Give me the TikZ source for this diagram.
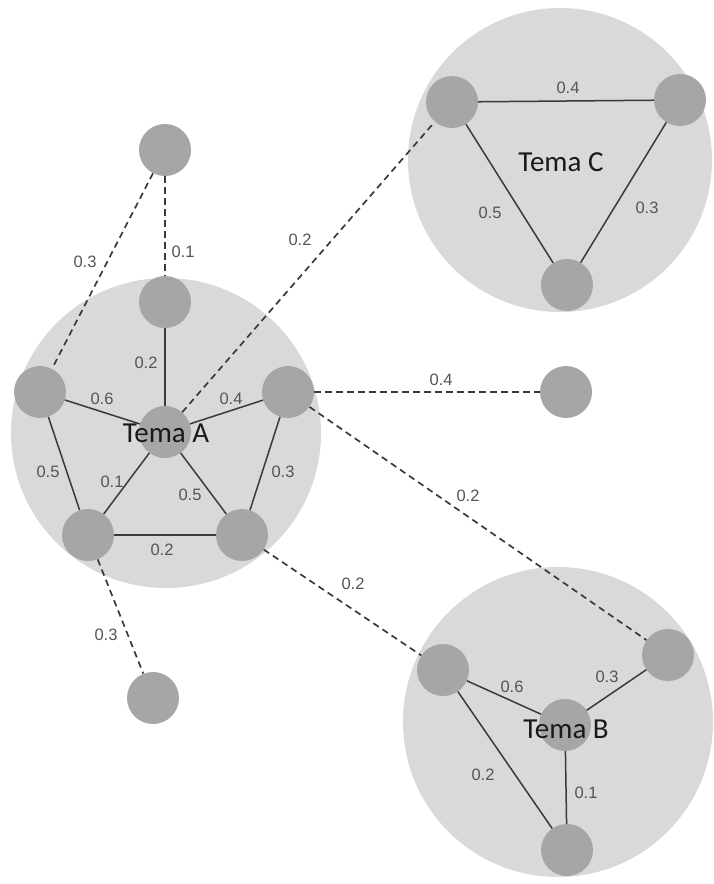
\documentclass[tikz,border=0pt]{standalone}
\usepackage{fontspec}
\setmainfont{Liberation Sans}
\newfontfamily\temafont{Carlito}
\definecolor{bigfill}{HTML}{D9D9D9}
\definecolor{dotfill}{HTML}{A6A6A6}
\definecolor{linec}{HTML}{3A3A3A}
\definecolor{numc}{HTML}{555555}
\begin{document}
\begin{tikzpicture}[x=1pt,y=-1pt,
  bigc/.style={circle, fill=bigfill, inner sep=0pt},
  dot/.style={circle, fill=dotfill, minimum size=52pt, inner sep=0pt},
  ln/.style={draw=linec, line width=1.5pt},
  dl/.style={draw=linec, line width=1.7pt, dash pattern=on 6.5pt off 4.5pt},
  wt/.style={font=\fontsize{16.5}{16.5}\selectfont, text=numc, inner sep=1pt},
  tema/.style={font=\temafont\fontsize{29}{29}\selectfont, text=black!90, inner sep=0pt}]
\useasboundingbox (0,0) rectangle (713,884);
% big circles
\node[bigc, minimum size=310pt] (A) at (166,433) {};
\node[bigc, minimum size=304pt] (C) at (560,160) {};
\node[bigc, minimum size=310pt] (B) at (558,722) {};
% nodes of A
\node[dot] (a0) at (165,432) {};
\node[dot] (a1) at (165,302) {};
\node[dot] (a2) at (40,392) {};
\node[dot] (a3) at (288,392) {};
\node[dot] (a4) at (88,535) {};
\node[dot] (a5) at (242,535) {};
% outer nodes
\node[dot] (o1) at (165,150) {};
\node[dot] (o2) at (566,392) {};
\node[dot] (o3) at (153,698) {};
% nodes of C
\node[dot] (c1) at (452,102) {};
\node[dot] (c2) at (680,100) {};
\node[dot] (c3) at (567,285) {};
% nodes of B
\node[dot] (b0) at (565,725) {};
\node[dot] (b1) at (443,670) {};
\node[dot] (b2) at (668,655) {};
\node[dot] (b3) at (567,850) {};
% solid edges
\draw[ln] (a0) -- (a1);
\draw[ln] (a0) -- (a2);
\draw[ln] (a0) -- (a3);
\draw[ln] (a0) -- (a4);
\draw[ln] (a0) -- (a5);
\draw[ln] (a2) -- (a4);
\draw[ln] (a3) -- (a5);
\draw[ln] (a4) -- (a5);
\draw[ln] (c1) -- (c2);
\draw[ln] (c1) -- (c3);
\draw[ln] (c2) -- (c3);
\draw[ln] (b1) -- (b0);
\draw[ln] (b2) -- (b0);
\draw[ln] (b0) -- (b3);
\draw[ln] (b1) -- (b3);
% dashed edges
\draw[dl] (o1) -- (a1);
\draw[dl] (o1) -- (a2);
\draw[dl] (a0) -- (c1);
\draw[dl] (a3) -- (o2);
\draw[dl] (a3) -- (b2);
\draw[dl] (a5) -- (b1);
\draw[dl] (a4) -- (o3);
% topic names
\node[tema] (tA) at (166,433) {Tema A};
\node[tema] (tC) at (561,162) {Tema C};
\node[tema] (tB) at (566,729) {Tema B};
% weights
\node[wt] (w1) at (183,252) {0.1};
\node[wt] (w2) at (85,262) {0.3};
\node[wt] (w3) at (300,240) {0.2};
\node[wt] (w4) at (146,363) {0.2};
\node[wt] (w5) at (102,399) {0.6};
\node[wt] (w6) at (231,399) {0.4};
\node[wt] (w7) at (48,472) {0.5};
\node[wt] (w8) at (112,482) {0.1};
\node[wt] (w9) at (190,495) {0.5};
\node[wt] (w10) at (283,472) {0.3};
\node[wt] (w11) at (162,550) {0.2};
\node[wt] (w12) at (106,635) {0.3};
\node[wt] (w13) at (441,380) {0.4};
\node[wt] (w14) at (468,496) {0.2};
\node[wt] (w15) at (353,584) {0.2};
\node[wt] (w16) at (568,88) {0.4};
\node[wt] (w17) at (490,213) {0.5};
\node[wt] (w18) at (647,208) {0.3};
\node[wt] (w19) at (512,687) {0.6};
\node[wt] (w20) at (607,677) {0.3};
\node[wt] (w21) at (483,775) {0.2};
\node[wt] (w22) at (586,793) {0.1};
\end{tikzpicture}
\end{document}
